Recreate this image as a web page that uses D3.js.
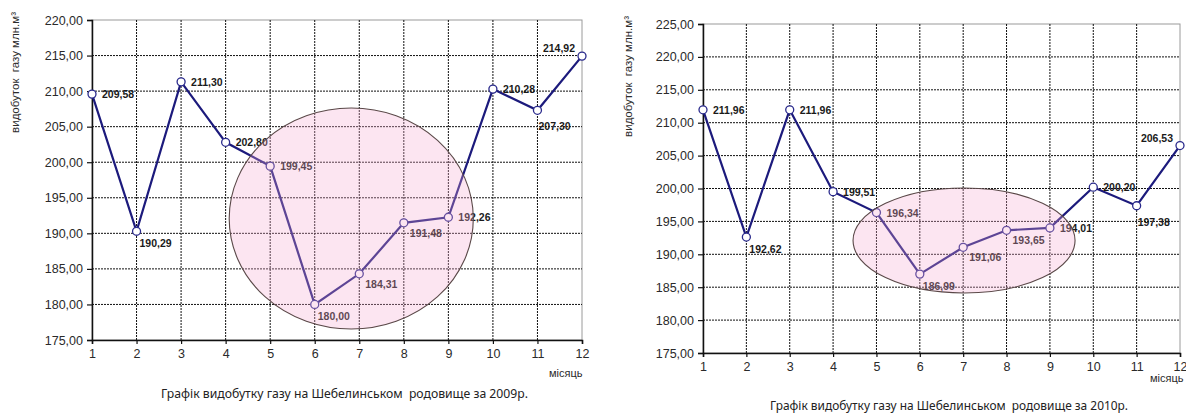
<!DOCTYPE html>
<html><head><meta charset="utf-8">
<script src="https://cdn.jsdelivr.net/npm/d3@7"></script>
<style>
html,body{margin:0;padding:0;background:#fff;}
text{white-space:pre;}
</style></head>
<body>
<svg id="c" width="1186" height="414"></svg>
<script>
const months = [1,2,3,4,5,6,7,8,9,10,11,12];
const values2009 = [209.58,190.29,211.30,202.80,199.45,180.00,184.31,191.48,192.26,210.28,207.30,214.92];
const values2010 = [211.96,192.62,211.96,199.51,196.34,186.99,191.06,193.65,194.01,200.20,197.38,206.53];
const yTicks2009 = [175,180,185,190,195,200,205,210,215,220];
const yTicks2010 = [175,180,185,190,195,200,205,210,215,220,225];
const labelPlacement = ["r","b","r","r","r","b","br","br","r","r","bb","al"];
// highlighted region (month, value centre and radii in data units)
const highlight2009 = {cx:6.82, cy:192.08, rx:2.74, ry:15.54};
const highlight2010 = {cx:7.02, cy:192.1, rx:2.56, ry:7.98};
const title2009 = "Графік видобутку газу на Шебелинськом  родовище за 2009р.";
const title2010 = "Графік видобутку газу на Шебелинськом  родовище за 2010р.";
const yTitle = "видобуток  газу млн.м³";
const xTitle = "місяць";

const svg = d3.select("#c");
const fmt = v => d3.format(".2f")(v).replace(".", ",");
const offs = {
  r:{dx:10,dy:4,a:"start"},
  b:{dx:3,dy:16,a:"start"},
  br:{dx:6,dy:14,a:"start"},
  bb:{dx:1,dy:20,a:"start"},
  al:{dx:-7,dy:-4,a:"end"}
};

function chart(cfg){
  const g = svg.append("g");
  const x = d3.scaleLinear().domain([1,12]).range([cfg.x0,cfg.x1]);
  const y = d3.scaleLinear().domain([cfg.ticks[0], cfg.ticks[cfg.ticks.length-1]]).range([cfg.y0,cfg.y1]);

  // border top/right
  g.append("rect").attr("x",cfg.x0).attr("y",cfg.y1).attr("width",cfg.x1-cfg.x0).attr("height",cfg.y0-cfg.y1)
    .attr("fill","none").attr("stroke","#9a9a9a").attr("stroke-width",1);

  // grid
  g.append("g").selectAll("line").data(cfg.ticks.slice(1,-1).concat([])).join("line")
    .attr("x1",cfg.x0).attr("x2",cfg.x1).attr("y1",d=>y(d)).attr("y2",d=>y(d))
    .attr("stroke","#111").attr("stroke-width",1).attr("stroke-dasharray","2,1");
  g.append("g").selectAll("line").data(months.slice(1,-1)).join("line")
    .attr("x1",d=>x(d)).attr("x2",d=>x(d)).attr("y1",cfg.y0).attr("y2",cfg.y1)
    .attr("stroke","#111").attr("stroke-width",1).attr("stroke-dasharray","2,1");

  // axes
  const ya = g.append("g").attr("transform",`translate(${cfg.x0},0)`)
    .call(d3.axisLeft(y).tickValues(cfg.ticks).tickSize(5).tickPadding(4).tickFormat(fmt));
  const xa = g.append("g").attr("transform",`translate(0,${cfg.y0})`)
    .call(d3.axisBottom(x).tickValues(months).tickSize(4).tickPadding(5).tickFormat(d3.format("d")));
  [ya,xa].forEach(a=>{
    a.select(".domain").attr("stroke","#111").attr("stroke-width",1.5);
    a.selectAll(".tick line").attr("stroke","#111").attr("stroke-width",1.2);
    a.selectAll(".tick text").attr("font-family","Liberation Sans, Arial, sans-serif").attr("font-size",12.5).attr("fill","#2a2a2a");
  });

  // line
  g.append("path").datum(cfg.values)
    .attr("d", d3.line().x((d,i)=>x(months[i])).y(d=>y(d)))
    .attr("fill","none").attr("stroke","#1c1a7c").attr("stroke-width",2.2);
  g.append("g").selectAll("circle").data(cfg.values).join("circle")
    .attr("cx",(d,i)=>x(months[i])).attr("cy",d=>y(d)).attr("r",4)
    .attr("fill","#fff").attr("stroke","#2a2a8c").attr("stroke-width",1.3);
  g.append("g").selectAll("text").data(cfg.values).join("text")
    .attr("x",(d,i)=>x(months[i])+offs[labelPlacement[i]].dx)
    .attr("y",(d,i)=>y(d)+offs[labelPlacement[i]].dy)
    .attr("text-anchor",(d,i)=>offs[labelPlacement[i]].a)
    .attr("font-family","Liberation Sans, Arial, sans-serif").attr("font-size",10.5).attr("font-weight","bold")
    .attr("fill","#1a1a1a").text(d=>fmt(d));

  // highlight ellipse
  const h = cfg.hl;
  g.append("ellipse").attr("cx",x(h.cx)).attr("cy",y(h.cy))
    .attr("rx",x(1+h.rx)-x(1)).attr("ry",y(cfg.ticks[0])-y(cfg.ticks[0]+h.ry))
    .attr("fill","rgb(245,170,210)").attr("fill-opacity",0.3)
    .attr("stroke","#5a4848").attr("stroke-width",1.1);

  // titles
  g.append("text").attr("transform",`translate(${cfg.ytx},${cfg.yty}) rotate(-90)`)
    .attr("text-anchor","end").attr("font-family","Liberation Sans, Arial, sans-serif").attr("font-size",11.5)
    .attr("fill","#2a2a2a").text(yTitle);
  g.append("text").attr("x",cfg.mx).attr("y",cfg.my).attr("text-anchor","start")
    .attr("font-family","Liberation Sans, Arial, sans-serif").attr("font-size",11).attr("fill","#2a2a2a").text(xTitle);
  g.append("text").attr("x",cfg.tx).attr("y",cfg.ty).attr("textLength",cfg.tw).attr("lengthAdjust","spacingAndGlyphs")
    .attr("font-family","Noto Sans, sans-serif").attr("font-size",12).attr("fill","#222").text(cfg.title);
}

chart({x0:92,x1:582,y0:340,y1:20,ticks:yTicks2009,values:values2009,hl:highlight2009,
  ytx:19,yty:12,mx:549,my:377,tx:161,ty:398,tw:367,title:title2009});
chart({x0:703,x1:1180,y0:353,y1:24,ticks:yTicks2010,values:values2010,hl:highlight2010,
  ytx:632,yty:16,mx:1150,my:382,tx:770,ty:410,tw:358,title:title2010});
</script>
</body></html>
